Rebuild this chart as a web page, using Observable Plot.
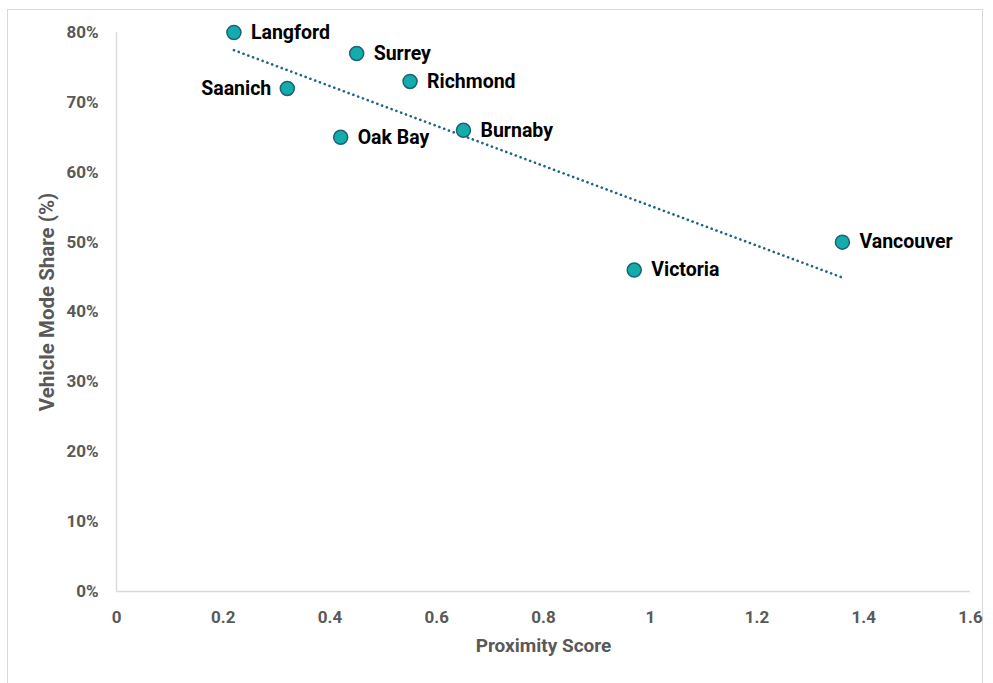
<!DOCTYPE html>
<html>
<head>
<meta charset="utf-8">
<script src="https://cdn.jsdelivr.net/npm/d3@7"></script>
<script src="https://cdn.jsdelivr.net/npm/@observablehq/plot@0.6"></script>
<style>
  html, body { margin: 0; padding: 0; background: #fff; }
  #wrap { position: relative; width: 993px; height: 683px; overflow: hidden; }
  #frame { position: absolute; left: 7px; top: 9px; width: 976px; height: 700px; border: 1px solid #d9d9d9; box-sizing: border-box; }
  #chart { position: absolute; left: 0; top: 0; }
</style>
</head>
<body>
<div id="wrap"><div id="frame"></div><div id="chart"></div></div>
<script>
const cities = ["Langford", "Surrey", "Richmond", "Saanich", "Oak Bay", "Burnaby", "Victoria", "Vancouver"];
const proximity = [0.22, 0.45, 0.55, 0.32, 0.42, 0.65, 0.97, 1.36];
const vehicleShare = [0.80, 0.77, 0.73, 0.72, 0.65, 0.66, 0.46, 0.50];
const xTicks = [0, 0.2, 0.4, 0.6, 0.8, 1, 1.2, 1.4, 1.6];
const yTicks = [0, 0.1, 0.2, 0.3, 0.4, 0.5, 0.6, 0.7, 0.8];
const leftLabelled = ["Saanich"];

const data = cities.map((c, i) => ({city: c, x: proximity[i], y: vehicleShare[i]}));
const font = "Roboto, 'Liberation Sans', sans-serif";

const chart = Plot.plot({
  width: 993,
  height: 683,
  marginLeft: 116,
  marginRight: 23,
  marginTop: 32,
  marginBottom: 92,
  style: {fontFamily: font, background: "transparent", overflow: "visible"},
  x: {domain: [0, 1.6], label: null},
  y: {domain: [0, 0.8], label: null},
  marks: [
    Plot.axisY({ticks: yTicks, tickSize: 0, tickPadding: 18, tickFormat: d3.format(".0%"),
      fontSize: 17, fontWeight: "bold", fill: "#595959", label: null}),
    Plot.axisX({ticks: xTicks, tickSize: 0, tickPadding: 19, tickFormat: d => String(+d.toFixed(1)),
      fontSize: 17, fontWeight: "bold", fill: "#595959", label: null}),
    Plot.ruleX([0], {stroke: "#d9d9d9", strokeWidth: 1.3}),
    Plot.ruleY([0], {stroke: "#d9d9d9", strokeWidth: 1.3}),
    Plot.linearRegressionY(data, {x: "x", y: "y", ci: 0, stroke: "#1f6584", strokeWidth: 2.6,
      strokeDasharray: "0.1,5", strokeLinecap: "round"}),
    Plot.dot(data, {x: "x", y: "y", r: 7, fill: "#12adab", stroke: "#1d6277", strokeWidth: 1.5}),
    Plot.text(data.filter(d => !leftLabelled.includes(d.city)), {x: "x", y: "y", text: "city", dx: 17,
      textAnchor: "start", fontSize: 19.5, fontWeight: "bold", fill: "#000"}),
    Plot.text(data.filter(d => leftLabelled.includes(d.city)), {x: "x", y: "y", text: "city", dx: -16,
      textAnchor: "end", fontSize: 19.5, fontWeight: "bold", fill: "#000"}),
    Plot.text(["Proximity Score"], {frameAnchor: "bottom", dy: 60, fontSize: 19, fontWeight: "bold", fill: "#595959"}),
    Plot.text(["Vehicle Mode Share (%)"], {frameAnchor: "left", textAnchor: "middle", dx: -69, dy: -10, rotate: -90,
      fontSize: 20.5, fontWeight: "bold", fill: "#595959"})
  ]
});
document.getElementById("chart").appendChild(chart);
</script>
</body>
</html>
